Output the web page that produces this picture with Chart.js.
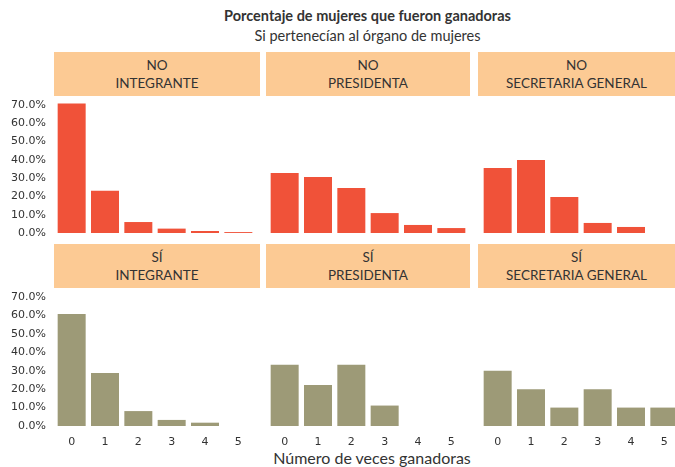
<!DOCTYPE html>
<html>
<head>
<meta charset="utf-8">
<script src="https://cdn.jsdelivr.net/npm/chart.js@4/dist/chart.umd.min.js"></script>
<style>
  html, body { margin: 0; padding: 0; background: #fff; overflow: hidden; }
  body { width: 675px; height: 467px; position: relative; font-family: 'Lato', sans-serif; color: #333; }
  .title { position: absolute; left: 0; width: 735px; text-align: center; }
  #t1 { top: 7px; font-size: 14.5px; font-weight: bold; }
  #t2 { top: 27px; font-size: 14.5px; }
  .strip { position: absolute; background: #fcca94; text-align: center; font-size: 13.5px; line-height: 18px; padding-top: 4px; box-sizing: border-box; height: 44px; }
  .panel { position: absolute; }
  #xtitle { position: absolute; top: 448px; left: 0; width: 744px; text-align: center; font-size: 16px; }
</style>
</head>
<body>
<div class="title" id="t1">Porcentaje de mujeres que fueron ganadoras</div>
<div class="title" id="t2">Si pertenecían al órgano de mujeres</div>
<div id="xtitle">Número de veces ganadoras</div>
<script>
'use strict';

const categories = ['0', '1', '2', '3', '4', '5'];
const rowLabels = ['NO', 'SÍ'];
const colLabels = ['INTEGRANTE', 'PRESIDENTA', 'SECRETARIA GENERAL'];

// porcentaje por número de veces ganadoras
const noIntegrante = [70.9, 23.1, 6.0, 2.4, 1.1, 0.5];
const noPresidenta = [32.8, 30.6, 24.6, 10.9, 4.4, 2.7];
const noSecretaria = [35.5, 39.9, 19.7, 5.5, 3.3, 0];
const siIntegrante = [60.8, 28.8, 8.1, 3.3, 1.8, 0];
const siPresidenta = [33.3, 22.2, 33.3, 11.1, 0, 0];
const siSecretaria = [30, 20, 10, 20, 10, 10];

const values = [
  [noIntegrante, noPresidenta, noSecretaria],
  [siIntegrante, siPresidenta, siSecretaria]
];
const rowColors = ['#f05239', '#9d9a77'];

const stripX = [[54, 260], [266, 470], [478, 675]];
const stripY = [52, 244];
const plotLeft = [55, 268, 481];
const plotWidth = 200;
const plotTop = [97, 289];
const plotHeight = [136, 137];
const yLabelWidth = 55;
const xAxisHeight = 26;

function makeStrip(row, col) {
  const div = document.createElement('div');
  div.className = 'strip';
  div.style.left = stripX[col][0] + 'px';
  div.style.width = (stripX[col][1] - stripX[col][0]) + 'px';
  div.style.top = stripY[row] + 'px';
  div.innerHTML = rowLabels[row] + '<br>' + colLabels[col];
  document.body.appendChild(div);
}

function makePanel(row, col) {
  const showY = col === 0;
  const showX = row === 1;
  const left = showY ? plotLeft[col] - yLabelWidth : plotLeft[col];
  const width = showY ? plotWidth + yLabelWidth : plotWidth;
  const extraBottom = showX ? xAxisHeight : 10;
  const height = plotHeight[row] + extraBottom;

  const box = document.createElement('div');
  box.className = 'panel';
  box.style.left = left + 'px';
  box.style.top = plotTop[row] + 'px';
  box.style.width = width + 'px';
  box.style.height = height + 'px';
  const canvas = document.createElement('canvas');
  box.appendChild(canvas);
  document.body.appendChild(box);

  const tickFont = { family: "'DejaVu Sans', sans-serif", size: 11 };

  new Chart(canvas.getContext('2d'), {
    type: 'bar',
    data: {
      labels: categories,
      datasets: [{
        data: values[row][col],
        backgroundColor: rowColors[row],
        barPercentage: 0.84,
        categoryPercentage: 1
      }]
    },
    options: {
      responsive: true,
      maintainAspectRatio: false,
      animation: false,
      layout: { padding: { top: 0, left: 0, right: 0, bottom: showX ? 0 : 10 } },
      plugins: { legend: { display: false }, tooltip: { enabled: false } },
      scales: {
        x: {
          display: showX,
          grid: { display: false, drawTicks: false },
          border: { display: false },
          ticks: { color: '#333', font: tickFont, padding: 10, maxRotation: 0 },
          afterFit: s => {
            if (!showX) return;
            s.height = xAxisHeight;
            s.paddingLeft = 0;
            s.paddingRight = 0;
          }
        },
        y: {
          display: showY,
          min: 0,
          max: 74.4,
          grid: { display: false, drawTicks: false },
          border: { display: false },
          ticks: {
            stepSize: 10,
            autoSkip: false,
            includeBounds: false,
            color: '#333',
            font: tickFont,
            padding: 9,
            callback: v => v.toFixed(1) + '%'
          },
          afterFit: s => {
            if (!showY) return;
            s.width = yLabelWidth;
            s.paddingTop = 0;
            s.paddingBottom = 0;
          }
        }
      }
    }
  });
}

for (let r = 0; r < 2; r++) {
  for (let c = 0; c < 3; c++) {
    makeStrip(r, c);
    makePanel(r, c);
  }
}
</script>
</body>
</html>
